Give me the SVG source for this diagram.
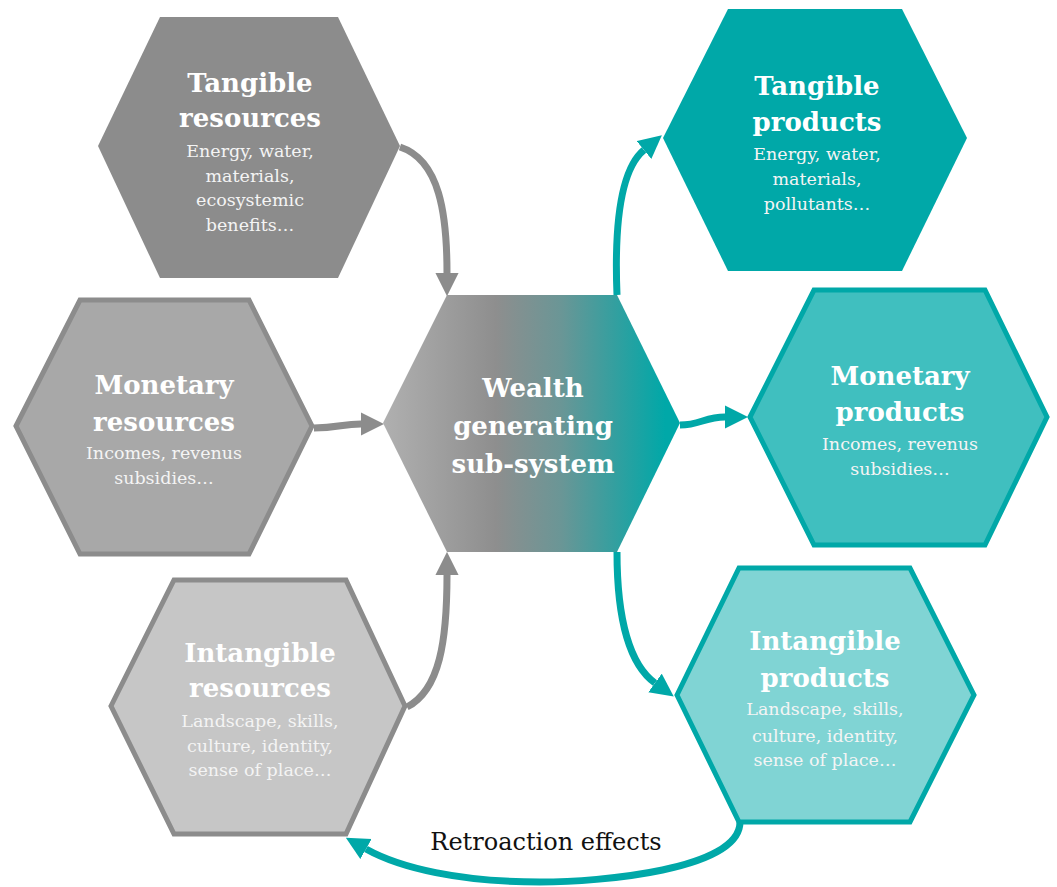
<svg xmlns="http://www.w3.org/2000/svg" width="1057" height="887" viewBox="0 0 1057 887">
  <defs>
    <linearGradient id="gradCenter" x1="0" y1="0" x2="1" y2="0">
      <stop offset="0" stop-color="#b0b0b0"/>
      <stop offset="0.38" stop-color="#8e8e8e"/>
      <stop offset="0.6" stop-color="#6a9696"/>
      <stop offset="0.95" stop-color="#00a8a8"/>
      <stop offset="1" stop-color="#00a8a8"/>
    </linearGradient>
    <marker id="arrGray" viewBox="0 0 10 10" refX="0" refY="5" markerWidth="3.3" markerHeight="3.4" orient="auto" markerUnits="strokeWidth">
      <path d="M0,0 L10,5 L0,10 z" fill="#8c8c8c"/>
    </marker>
    <marker id="arrTeal" viewBox="0 0 10 10" refX="0" refY="5" markerWidth="3.3" markerHeight="3.4" orient="auto" markerUnits="strokeWidth">
      <path d="M0,0 L10,5 L0,10 z" fill="#00a8a8"/>
    </marker>
  </defs>
  <style>
    .title { font-family: "DejaVu Serif", "Liberation Serif", serif; font-weight: bold; font-size: 26px; fill: #ffffff; text-anchor: middle; }
    .sub { font-family: "DejaVu Serif", "Liberation Serif", serif; font-size: 17.5px; fill: #f4f4f4; text-anchor: middle; }
    .label { font-family: "DejaVu Serif", "Liberation Serif", serif; font-size: 24px; fill: #111111; text-anchor: middle; }
    .grayline { fill: none; stroke: #8c8c8c; stroke-width: 7; marker-end: url(#arrGray); }
    .tealline { fill: none; stroke: #00a8a8; stroke-width: 7; marker-end: url(#arrTeal); }
    .hexGrayStroke { stroke: #8c8c8c; stroke-width: 5; stroke-linejoin: miter; }
    .hexTealStroke { stroke: #00a8a8; stroke-width: 5; stroke-linejoin: miter; }
  </style>

  <g id="connectors">
    <path class="grayline" d="M400,147 C 440,160 447,215 447,273"/>
    <path class="grayline" d="M314,428 C 338,428 342,424 361,424"/>
    <path class="grayline" d="M407,707 C 440,690 447,640 447,575"/>
    <path class="tealline" d="M617,295 C 614,220 622,168 644,150"/>
    <path class="tealline" d="M680,425 C 700,425 705,417 725,417"/>
    <path class="tealline" d="M617,552 C 617,620 630,665 655,683"/>
    <path class="tealline" d="M740,822 C 740,870 600,882 540,882 C 460,882 400,868 366,849"/>
  </g>

  <g id="tangible-resources">
    <polygon points="98,146 160,17 338,17 400,146 338,278 160,278" fill="#8c8c8c"/>
    <text class="title" x="250" y="92">Tangible</text>
    <text class="title" x="250" y="127">resources</text>
    <text class="sub" x="250" y="157">Energy, water,</text>
    <text class="sub" x="250" y="182">materials,</text>
    <text class="sub" x="250" y="206">ecosystemic</text>
    <text class="sub" x="250" y="231">benefits…</text>
  </g>

  <g id="monetary-resources">
    <polygon class="hexGrayStroke" points="16,426 80,300 249,300 312,426 249,554 80,554" fill="#a8a8a8"/>
    <text class="title" x="164" y="394">Monetary</text>
    <text class="title" x="164" y="431">resources</text>
    <text class="sub" x="164" y="459">Incomes, revenus</text>
    <text class="sub" x="164" y="484">subsidies…</text>
  </g>

  <g id="intangible-resources">
    <polygon class="hexGrayStroke" points="111,706 174,580 346,580 405,706 346,834 174,834" fill="#c6c6c6"/>
    <text class="title" x="260" y="662">Intangible</text>
    <text class="title" x="260" y="697">resources</text>
    <text class="sub" x="260" y="727">Landscape, skills,</text>
    <text class="sub" x="260" y="752">culture, identity,</text>
    <text class="sub" x="260" y="776">sense of place…</text>
  </g>

  <g id="wealth-generating">
    <polygon points="383,423 447,295 617,295 680,423 617,552 447,552" fill="url(#gradCenter)"/>
    <text class="title" x="533" y="397">Wealth</text>
    <text class="title" x="533" y="435">generating</text>
    <text class="title" x="533" y="473">sub-system</text>
  </g>

  <g id="tangible-products">
    <polygon points="663,138 728,9 902,9 967,138 902,271 728,271" fill="#00a8a8"/>
    <text class="title" x="817" y="95">Tangible</text>
    <text class="title" x="817" y="131">products</text>
    <text class="sub" x="817" y="160">Energy, water,</text>
    <text class="sub" x="817" y="185">materials,</text>
    <text class="sub" x="817" y="210">pollutants…</text>
  </g>

  <g id="monetary-products">
    <polygon class="hexTealStroke" points="750,417 814,290 985,290 1047,417 985,545 814,545" fill="#40bfbf"/>
    <text class="title" x="900" y="385">Monetary</text>
    <text class="title" x="900" y="421">products</text>
    <text class="sub" x="900" y="450">Incomes, revenus</text>
    <text class="sub" x="900" y="475">subsidies…</text>
  </g>

  <g id="intangible-products">
    <polygon class="hexTealStroke" points="677,695 739,568 910,568 974,695 910,822 739,822" fill="#80d4d4"/>
    <text class="title" x="825" y="650">Intangible</text>
    <text class="title" x="825" y="687">products</text>
    <text class="sub" x="825" y="715">Landscape, skills,</text>
    <text class="sub" x="825" y="742">culture, identity,</text>
    <text class="sub" x="825" y="766">sense of place…</text>
  </g>

  <g id="retroaction-label">
    <text class="label" x="546" y="850">Retroaction effects</text>
  </g>
</svg>
